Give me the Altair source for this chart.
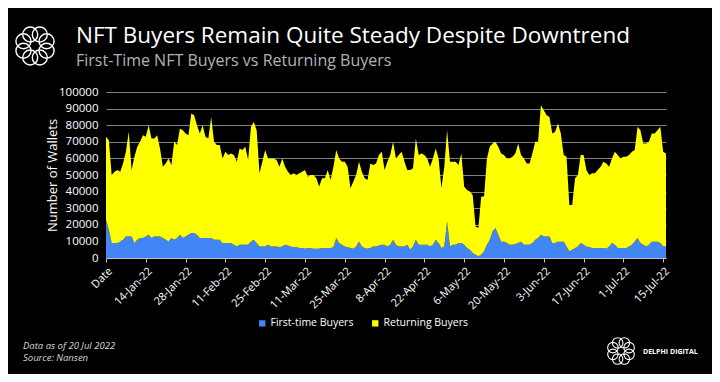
import math
import altair as alt
import pandas as pd

FONT = "Open Sans"

series_names = ["First-time Buyers", "Returning Buyers"]
series_colors = ["#4285f4", "#ffff00"]

first_time = [
    23000, 17000, 9000, 9000, 9000, 10000, 11000, 13000, 13000, 13000,
    9000, 11000, 12000, 12000, 13000, 14000, 12000, 13000, 13000, 13000,
    12000, 11000, 10000, 12000, 11000, 12000, 14000, 12000, 13000, 14000,
    15000, 15000, 14000, 12000, 12000, 12000, 12000, 12000, 11000, 11000,
    11000, 9000, 9000, 9000, 9000, 8000, 7000, 8000, 8000, 8000,
    8000, 10000, 11000, 9000, 7000, 7000, 7000, 8000, 7000, 7000,
    7000, 6500, 7000, 8000, 7500, 7000, 6500, 6500, 6000, 6000,
    5500, 6000, 6000, 5500, 5500, 5500, 6000, 6000, 6000, 6000,
    6500, 12000, 9000, 8000, 7000, 6500, 6000, 5500, 7000, 10000,
    7000, 6000, 5500, 6000, 7000, 7000, 7500, 8000, 8000, 7000,
    8000, 11000, 8000, 7000, 7000, 7000, 8000, 5000, 7000, 11000,
    8000, 8000, 8000, 8000, 7000, 8000, 11000, 9000, 6000, 7000,
    22000, 7000, 8000, 8000, 9000, 9000, 8000, 6000, 5000, 3000,
    2000, 1000, 2000, 4000, 8000, 11000, 16000, 18000, 14000, 10000,
    10000, 9000, 8000, 8000, 8500, 9000, 10000, 8000, 8000, 8000,
    9000, 11000, 12000, 14000, 13000, 13000, 13000, 9000, 9000, 10000,
    10000, 10000, 7000, 4000, 5000, 6000, 7000, 9000, 8000, 7000,
    6500, 6000, 6000, 6000, 6000, 6000, 5500, 7000, 9000, 8000,
    6000, 6000, 6000, 6000, 7000, 8000, 10000, 12000, 9000, 8000,
    7000, 8000, 10000, 10000, 10000, 9000, 7000, 7000,
]

returning = [
    50000, 54000, 41000, 43000, 44000, 42000, 46000, 51000, 63000, 40000,
    52000, 56000, 58000, 62000, 60000, 66000, 60000, 59000, 61000, 53000,
    43000, 46000, 50000, 44000, 59000, 56000, 64000, 65000, 62000, 60000,
    72000, 71000, 66000, 63000, 68000, 61000, 60000, 73000, 59000, 57000,
    57000, 51000, 55000, 53000, 54000, 54000, 51000, 58000, 57000, 59000,
    51000, 69000, 71000, 68000, 44000, 51000, 58000, 52000, 53000, 53000,
    52000, 48500, 53000, 47000, 44500, 43000, 44500, 43500, 45000, 46000,
    47500, 43000, 44000, 44500, 42500, 37500, 42000, 42000, 47000, 41000,
    48500, 53000, 51000, 50000, 51000, 48500, 36000, 40500, 43000, 48000,
    45000, 42000, 41500, 51000, 49000, 50000, 54500, 56000, 45000, 51000,
    54000, 59000, 52000, 55000, 57000, 51000, 45000, 48000, 47000, 61000,
    54000, 55000, 54000, 52000, 48000, 52000, 55000, 51000, 36000, 48000,
    55000, 51000, 50000, 50000, 47000, 54000, 35000, 35000, 35000, 35000,
    17000, 17000, 35000, 33000, 52000, 56000, 53000, 52000, 53000, 53000,
    52000, 51000, 52000, 53000, 54500, 60000, 52000, 52000, 49000, 49000,
    54000, 59000, 58000, 78000, 76000, 73000, 72000, 66000, 67000, 71000,
    65000, 52000, 54000, 28000, 27000, 42000, 43000, 53000, 54000, 46000,
    43500, 45000, 45000, 47000, 49000, 52000, 51500, 48000, 51000, 56000,
    56000, 54000, 55000, 55000, 55000, 56000, 55000, 67000, 68000, 61000,
    62000, 62000, 65000, 65000, 67000, 70000, 57000, 56000,
]

x_tick_labels = [
    "Date", "14-Jan-22", "28-Jan-22", "11-Feb-22", "25-Feb-22", "11-Mar-22",
    "25-Mar-22", "8-Apr-22", "22-Apr-22", "6-May-22", "20-May-22", "3-Jun-22",
    "17-Jun-22", "1-Jul-22", "15-Jul-22",
]
x_tick_values = [14 * i for i in range(len(x_tick_labels))]
y_tick_values = [10000 * i for i in range(11)]

rows = []
for d, (f, r) in enumerate(zip(first_time, returning)):
    rows.append({"day": d, "series": series_names[0], "rank": 0, "wallets": f})
    rows.append({"day": d, "series": series_names[1], "rank": 1, "wallets": r})
df = pd.DataFrame(rows)

label_expr = "[" + ",".join("'%s'" % t for t in x_tick_labels) + "][round(datum.value / 14)]"

area = alt.Chart(df).mark_area(interpolate="linear", opacity=1).encode(
    x=alt.X(
        "day:Q",
        scale=alt.Scale(domain=[0, len(first_time) - 1], nice=False, zero=False),
        axis=alt.Axis(
            values=x_tick_values, labelExpr=label_expr, labelAngle=-45, title=None,
            grid=False, domainColor="#bfbfbf", tickColor="#bfbfbf", tickSize=4,
            labelColor="white", labelFont=FONT, labelFontSize=11, labelPadding=3,
            labelOverlap=False,
        ),
    ),
    y=alt.Y(
        "wallets:Q", stack="zero",
        scale=alt.Scale(domain=[0, 100000], nice=False),
        axis=alt.Axis(
            values=y_tick_values, format="d", title="Number of Wallets",
            domain=False, ticks=False, gridColor="#808080", gridWidth=1,
            labelColor="white", labelFont=FONT, labelFontSize=11.5, labelPadding=8,
            titleColor="white", titleFont=FONT, titleFontSize=13, titleFontWeight="normal",
            titleX=-54, titleY=83, titleAngle=-90, titleAlign="center", titleBaseline="middle",
        ),
    ),
    color=alt.Color(
        "series:N",
        scale=alt.Scale(domain=series_names, range=series_colors),
        legend=alt.Legend(
            orient="none", legendX=151, legendY=226, direction="horizontal", title=None,
            symbolType="square", symbolSize=40, symbolStrokeWidth=0, labelColor="white",
            labelFont=FONT, labelFontSize=10.5, labelOffset=3, columnPadding=16,
        ),
    ),
    order=alt.Order("rank:Q", sort="ascending"),
)


def text_layer(text, x, y, size, color, weight="normal", style="normal", baseline="alphabetic"):
    return alt.Chart(pd.DataFrame({"t": [text]})).mark_text(
        align="left", baseline=baseline, fontSize=size, color=color,
        fontWeight=weight, fontStyle=style, font=FONT,
    ).encode(x=alt.value(x), y=alt.value(y), text="t:N")


def ring_path(n=8, R=0.6, r=0.36):
    parts = []
    for k in range(n):
        a = 2 * math.pi * k / n + math.pi / 8
        cx, cy = R * math.cos(a), R * math.sin(a)
        parts.append("M%.3f,%.3fa%.3f,%.3f 0 1,0 %.3f,0a%.3f,%.3f 0 1,0 %.3f,0"
                     % (cx - r, cy, r, r, 2 * r, r, r, -2 * r))
    return "".join(parts)


def logo_layer(x, y, size, sw):
    return alt.Chart(pd.DataFrame({"k": [0]})).mark_point(
        shape=ring_path(), size=size, filled=False, stroke="white",
        strokeWidth=sw, opacity=1,
    ).encode(x=alt.value(x), y=alt.value(y))


title = text_layer("NFT Buyers Remain Quite Steady Despite Downtrend", -30, -49, 22.5, "white")
subtitle = text_layer("First-Time NFT Buyers vs Returning Buyers", -30, -26, 16, "#b3b3b3")
foot1 = text_layer("Data as of 20 Jul 2022", -83, 254, 9.5, "#d9d9d9", style="italic", baseline="middle")
foot2 = text_layer("Source: Nansen", -83, 265.5, 9.5, "#d9d9d9", style="italic", baseline="middle")
brand = text_layer("DELPHI DIGITAL", 537, 260, 7, "white", weight="bold", baseline="middle")

chart = alt.layer(
    area, title, subtitle, foot1, foot2, brand,
    logo_layer(-71, -46, 1740, 1.4),
    logo_layer(515, 259, 850, 1.1),
).properties(
    width=560,
    height=166,
    autosize=alt.AutoSizeParams(type="none"),
    padding={"left": 98, "top": 84, "right": 46, "bottom": 116},
    background="black",
).configure_view(strokeWidth=0)

chart.save("out.html", embed_options={"renderer": "svg", "actions": False})
